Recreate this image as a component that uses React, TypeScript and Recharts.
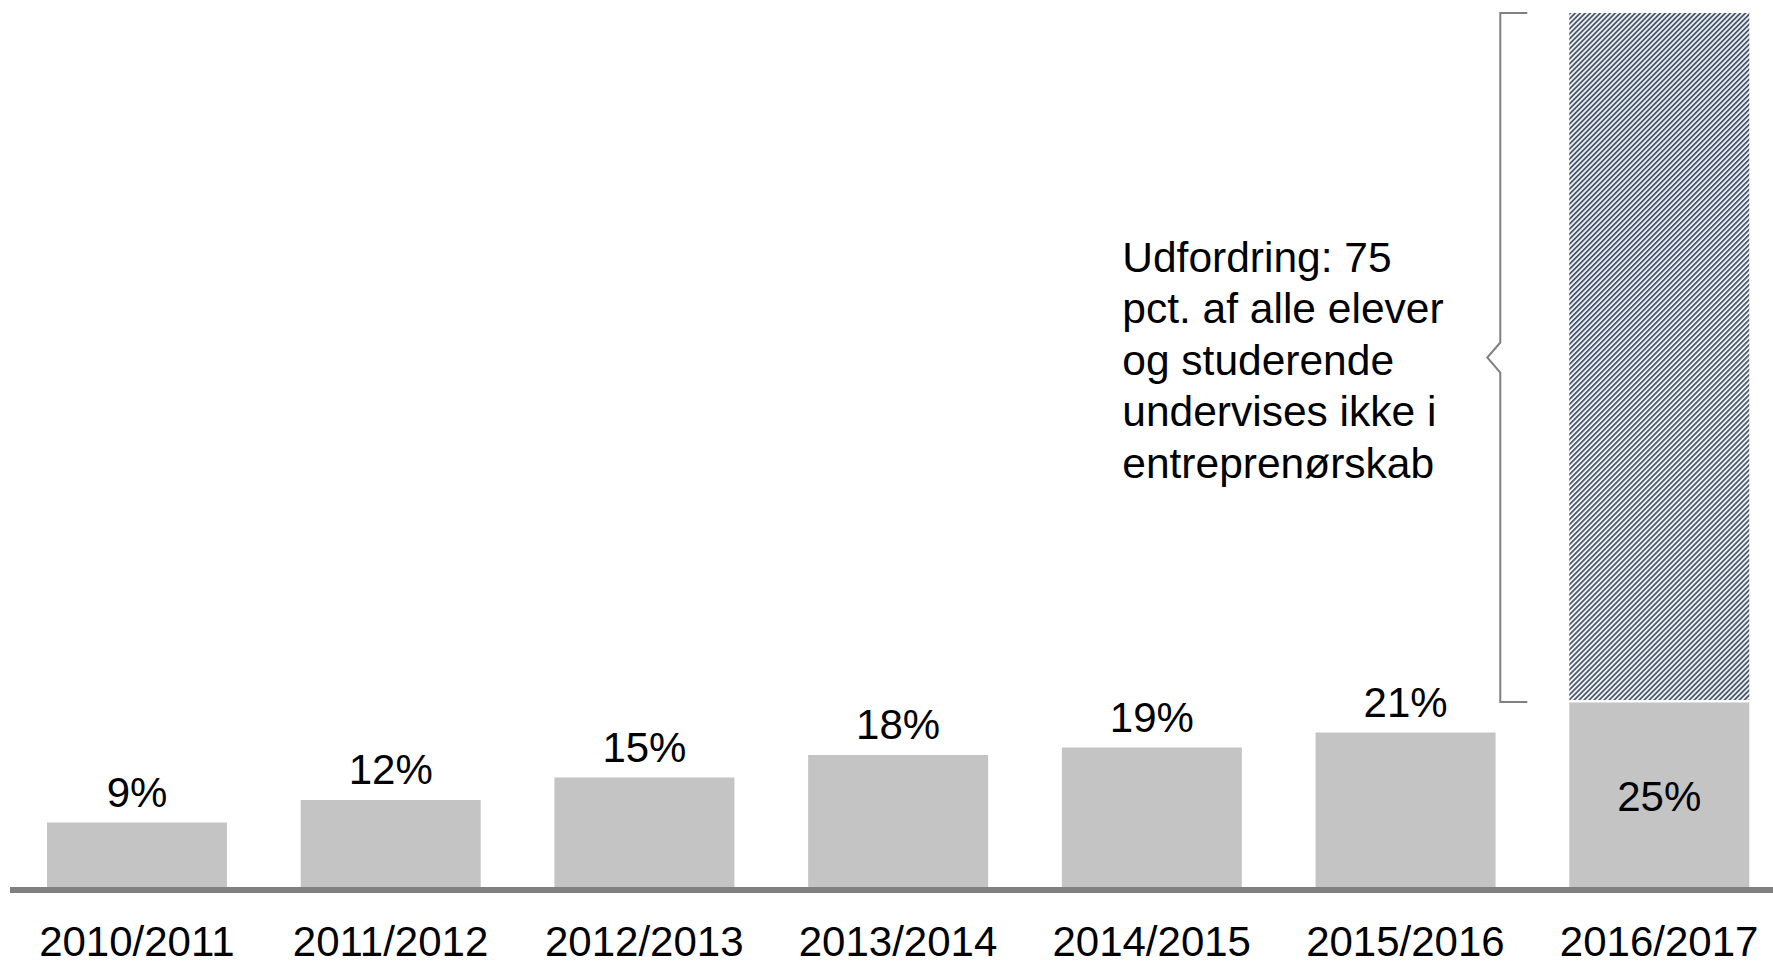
import React from 'react';
import { BarChart, Bar, XAxis, YAxis, LabelList } from 'recharts';

const periods = ['2010/2011', '2011/2012', '2012/2013', '2013/2014', '2014/2015', '2015/2016', '2016/2017'];
// andel elever og studerende, der undervises i entreprenørskab (pct.)
const taughtShare = [9, 12, 15, 18, 19, 21, 25];
// resten, der ikke undervises (kun vist for sidste år)
const notTaughtShare: (number | null)[] = [null, null, null, null, null, null, 75];
const challengeLines = ['Udfordring: 75', 'pct. af alle elever', 'og studerende', 'undervises ikke i', 'entreprenørskab'];

const data = periods.map((period, i) => ({
  period,
  taught: taughtShare[i],
  notTaught: notTaughtShare[i],
}));

const FONT = '"Liberation Sans", Arial, sans-serif';
const GREY = '#c4c4c4';
const AXIS = '#808080';

const PeriodTick = (props: any) => {
  const { x, y, payload } = props;
  return (
    <text x={x} y={y + 58} textAnchor="middle" fontSize={42} fontFamily={FONT} fill="#000">
      {payload.value}
    </text>
  );
};

const renderShareLabel = (props: any) => {
  const { index } = props;
  const x = Number(props.x);
  const y = Number(props.y);
  const width = Number(props.width);
  const height = Number(props.height);
  const inside = notTaughtShare[index] != null;
  const ty = inside ? y + height / 2 + 15 : y - 16;
  return (
    <text x={x + width / 2} y={ty} textAnchor="middle" fontSize={42} fontFamily={FONT} fill="#000">
      {taughtShare[index]}%
    </text>
  );
};

// skraveret søjle + klamme og forklarende tekst
const HatchBar = (props: any) => {
  const { x, y, width, height, payload } = props;
  if (payload.notTaught == null || !(height > 0)) return null;
  const bx = x - 69;
  const bottom = y + height + 2;
  const mid = (y + bottom) / 2;
  return (
    <g>
      <defs>
        <pattern id="hatch" width={3.54} height={10} patternUnits="userSpaceOnUse" patternTransform="rotate(45)">
          <rect x={0} y={0} width={3.54} height={10} fill="#ffffff" />
          <rect x={0} y={0} width={1.9} height={10} fill="#4a5a72" />
        </pattern>
      </defs>
      <rect x={x} y={y} width={width} height={height} fill="url(#hatch)" />
      <path
        d={`M${bx + 27},${y} H${bx} V${mid - 15} L${bx - 13},${mid} L${bx},${mid + 15} V${bottom} H${bx + 27}`}
        fill="none"
        stroke={AXIS}
        strokeWidth={2}
      />
      {challengeLines.map((line, i) => (
        <text key={i} x={x - 447} y={mid + 17 + (i - 2) * 51.5} fontSize={42.5} fontFamily={FONT} fill="#000">
          {line}
        </text>
      ))}
    </g>
  );
};

export default function App() {
  return (
    <div style={{ position: 'absolute', left: 0, top: 0, width: 1773, height: 961, overflow: 'hidden', background: '#fff' }}>
      <BarChart width={1800} height={961} data={data} margin={{ top: 13, right: 14, bottom: 0, left: 10 }}>
        <XAxis
          xAxisId="main"
          dataKey="period"
          height={71}
          interval={0}
          tickLine={false}
          axisLine={{ stroke: AXIS, strokeWidth: 6 }}
          tick={<PeriodTick />}
        />
        <XAxis xAxisId="gap" dataKey="period" hide height={0} />
        <YAxis yAxisId="main" hide domain={[0, 117]} />
        <YAxis yAxisId="gap" hide domain={[4.26, 100]} />
        <Bar xAxisId="main" yAxisId="main" dataKey="taught" fill={GREY} barSize={180} isAnimationActive={false}>
          <LabelList dataKey="taught" content={renderShareLabel} />
        </Bar>
        <Bar
          xAxisId="gap"
          yAxisId="gap"
          dataKey={(d: any) => (d.notTaught == null ? null : [d.taught, d.taught + d.notTaught])}
          barSize={180}
          shape={<HatchBar />}
          isAnimationActive={false}
        />
      </BarChart>
    </div>
  );
}
